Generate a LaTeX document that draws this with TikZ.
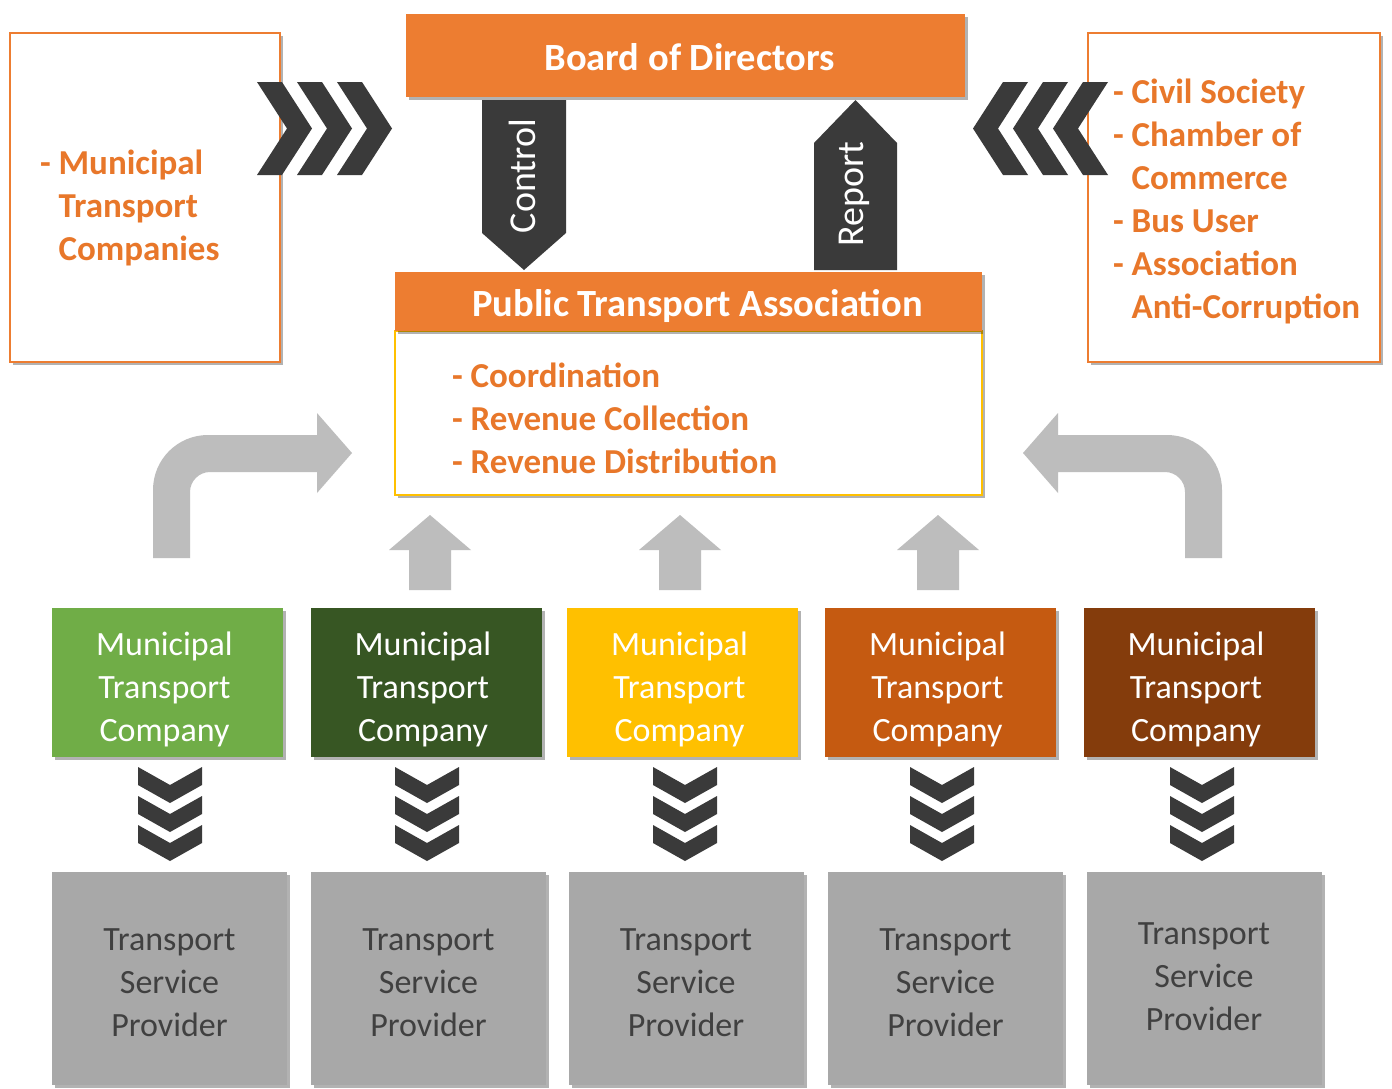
\documentclass[tikz,border=0pt]{standalone}
\usepackage{fontspec}
\setmainfont{Carlito}
\usetikzlibrary{shadows}
\definecolor{orng}{HTML}{ED7D31}
\definecolor{orngtxt}{HTML}{E8772A}
\definecolor{yel}{HTML}{FFC000}
\definecolor{greenA}{HTML}{70AD47}
\definecolor{greenB}{HTML}{375623}
\definecolor{brownA}{HTML}{C55A11}
\definecolor{brownB}{HTML}{843C0C}
\definecolor{grayBox}{HTML}{A8A8A8}
\definecolor{grayArr}{HTML}{BDBDBD}
\definecolor{darkArr}{HTML}{3A3A3A}
\definecolor{grayTxt}{HTML}{404040}
\begin{document}
\begin{tikzpicture}[x=1pt,y=-1pt,
  shad/.style={drop shadow={shadow xshift=3pt,shadow yshift=-3pt,opacity=.3,fill=black}},
  plain/.style={inner sep=0pt,outer sep=0pt},
  outlinebox/.style={plain,draw=orng,line width=1.8pt,fill=white,shad},
  titlebox/.style={plain,fill=orng,shad},
  titletext/.style={plain,text=white,font=\fontsize{38.5}{44}\selectfont\bfseries},
  listtext/.style={plain,anchor=west,align=left,text=orngtxt,font=\fontsize{35}{43}\selectfont\bfseries},
  company/.style={plain,fill=#1,minimum width=231pt,minimum height=149pt,shad},
  provider/.style={plain,fill=grayBox,minimum width=235pt,minimum height=213pt,shad},
  boxtext/.style={plain,text=#1,align=center,font=\fontsize{34}{43}\selectfont},
  vlabel/.style={plain,rotate=90,text=white,font=\fontsize{38}{40}\selectfont}]
\useasboundingbox (0,0) rectangle (1392,1088);
\fill[white] (0,0) rectangle (1392,1088);

% side boxes
\node[outlinebox,minimum width=270pt,minimum height=329pt] (lbox) at (145,197.5) {};
\node[outlinebox,minimum width=292pt,minimum height=329pt] (rbox) at (1234,197.5) {};
\node[listtext] (ltext) at (40,208) {- Municipal\\\hphantom{- }Transport\\\hphantom{- }Companies};
\node[listtext] (rtext) at (1113,201) {- Civil Society\\- Chamber of\\\hphantom{- }Commerce\\- Bus User\\- Association\\\hphantom{- }Anti-Corruption};

% board
\node[titlebox,minimum width=559pt,minimum height=83pt] (board) at (685.5,55.5) {};
\node[titletext] (boardt) at ([xshift=4pt,yshift=-2pt]board.center) {Board of Directors};

% PTA
\node[plain,draw=yel,line width=1.8pt,fill=white,minimum width=587pt,minimum height=164pt,shad] (ptabody) at (688.5,413) {};
\node[titlebox,minimum width=587pt,minimum height=59pt] (ptahead) at (688.5,301.5) {};
\node[titletext] (ptaheadt) at ([xshift=9pt,yshift=-4pt]ptahead.center) {Public Transport Association};
\node[listtext] (ptext) at (452,418) {- Coordination\\- Revenue Collection\\- Revenue Distribution};

% control / report
\fill[darkArr] (482,100) -- (566,100) -- (566,233) -- (524,270) -- (482,233) -- cycle;
\fill[darkArr] (814,270) -- (897,270) -- (897,143) -- (855.5,100) -- (814,143) -- cycle;
\node[vlabel] (ctl) at (522,176) {Control};
\node[vlabel] (rep) at (854,194) {Report};

% side chevrons
\foreach \dx in {0,40,80}{
  \fill[darkArr] (257+\dx,82) -- (282+\dx,82) -- (312+\dx,128.5) -- (282+\dx,175) -- (257+\dx,175) -- (287+\dx,128.5) -- cycle;
  \fill[darkArr] (1108-\dx,82) -- (1083-\dx,82) -- (1053-\dx,128.5) -- (1083-\dx,175) -- (1108-\dx,175) -- (1078-\dx,128.5) -- cycle;
}

% curved arrows
\fill[grayArr] (153,558) -- (153,490) .. controls (153,459.6) and (177.4,435) .. (208,435)
  -- (317,435) -- (317,413) -- (352,453) -- (317,493) -- (317,472) -- (210,472)
  .. controls (199,472) and (190,481) .. (190,492) -- (190,558) -- cycle;
\fill[grayArr] (1222,558) -- (1222,490) .. controls (1222,459.6) and (1197.6,435) .. (1167,435)
  -- (1058,435) -- (1058,413) -- (1023,453) -- (1058,493) -- (1058,472) -- (1165,472)
  .. controls (1176,472) and (1185,481) .. (1185,492) -- (1185,558) -- cycle;

% up arrows
\foreach \cx in {430,680,938}{
  \fill[grayArr] (\cx-21,590) -- (\cx-21,550) -- (\cx-41,550) -- (\cx,515) -- (\cx+41,550) -- (\cx+21,550) -- (\cx+21,590) -- cycle;
}

% companies
\foreach \i/\cx/\col in {1/167.5/greenA,2/426/greenB,3/682.5/yel,4/940.5/brownA,5/1199/brownB}{
  \node[company=\col] (c\i) at (\cx,682.5) {};
  \node[boxtext=white] (c\i t) at ([xshift=-3pt,yshift=-7pt]c\i.center) {Municipal\\Transport\\Company};
}

% down chevrons
\foreach \cx in {170,427,685,942,1202}{
  \foreach \yy in {767,796,825}{
    \fill[darkArr] (\cx-32,\yy) -- (\cx,\yy+18) -- (\cx+32,\yy) -- (\cx+32,\yy+18) -- (\cx,\yy+36) -- (\cx-32,\yy+18) -- cycle;
  }
}

% providers
\foreach \i/\cx/\dy in {1/169.5/4,2/428.5/4,3/686/4,4/945.5/4,5/1204/-2}{
  \node[provider] (p\i) at (\cx,978.5) {};
  \node[boxtext=grayTxt] (p\i t) at ([yshift=-\dy pt]p\i.center) {Transport\\Service\\Provider};
}
\end{tikzpicture}
\end{document}
